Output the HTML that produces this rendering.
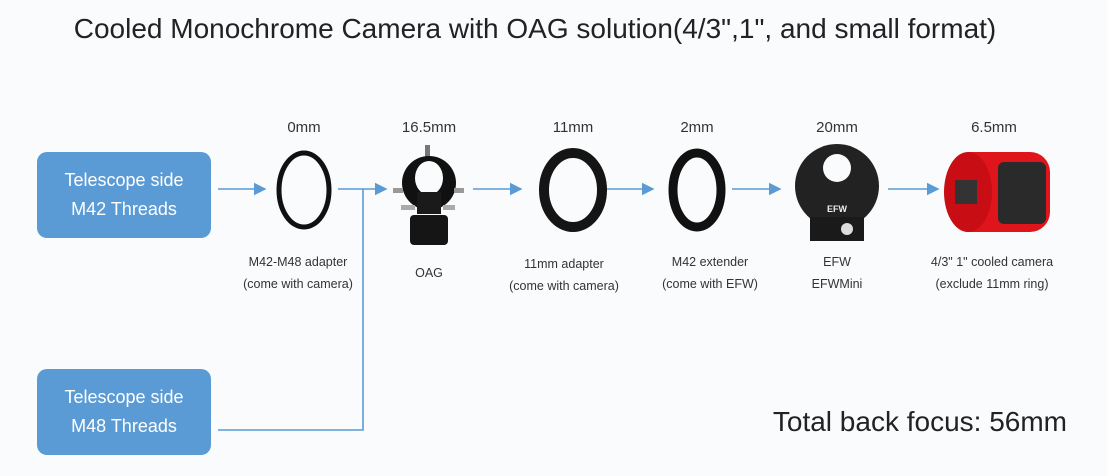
<!DOCTYPE html>
<html><head><meta charset="utf-8"><style>
html,body{margin:0;padding:0}
body{width:1107px;height:476px;background:#fafbfc;position:relative;overflow:hidden;font-family:"Liberation Sans","DejaVu Sans",sans-serif;color:#333}
.t{position:absolute;white-space:nowrap;transform:translateX(-50%);text-align:center}
.box{position:absolute;left:37px;width:174px;height:86px;background:#5b9bd5;border-radius:10px;color:#fff;font-size:18px;line-height:29px;display:flex;align-items:center;justify-content:center;text-align:center}
.mm{font-size:15px;top:119px}
.cap{font-size:12.5px;line-height:22px;top:251px}
</style></head><body>
<div class="t" style="left:535px;top:13px;font-size:28px;color:#222">Cooled Monochrome Camera with OAG solution(4/3",1", and small format)</div>
<div class="box" style="top:152px">Telescope side<br>M42 Threads</div>
<div class="box" style="top:369px">Telescope side<br>M48 Threads</div>

<svg width="1107" height="476" style="position:absolute;left:0;top:0">
<defs><marker id="a" markerWidth="8" markerHeight="8" refX="7" refY="4" orient="auto"><path d="M0,0 L8,4 L0,8 z" fill="#5b9bd5"/></marker></defs>
<g stroke="#5b9bd5" stroke-width="1.6" fill="none">
<line x1="218" y1="189" x2="265" y2="189" marker-end="url(#a)"/>
<line x1="338" y1="189" x2="386" y2="189" marker-end="url(#a)"/>
<polyline points="363,189 363,430 218,430"/>
<line x1="473" y1="189" x2="521" y2="189" marker-end="url(#a)"/>
<line x1="605" y1="189" x2="653" y2="189" marker-end="url(#a)"/>
<line x1="732" y1="189" x2="780" y2="189" marker-end="url(#a)"/>
<line x1="888" y1="189" x2="938" y2="189" marker-end="url(#a)"/>
</g>
<ellipse cx="304" cy="190" rx="25" ry="37" fill="none" stroke="#111" stroke-width="5"/>
<rect x="425" y="145" width="5" height="12" fill="#777"/>
<circle cx="429" cy="183" r="27" fill="#111"/>
<ellipse cx="429" cy="178" rx="14" ry="17" fill="#fafbfc"/>
<rect x="417" y="192" width="24" height="22" fill="#1a1a1a"/>
<rect x="410" y="215" width="38" height="30" rx="4" fill="#151515"/>
<rect x="393" y="188" width="10" height="5" fill="#999"/><rect x="454" y="188" width="10" height="5" fill="#999"/>
<rect x="401" y="205" width="14" height="5" fill="#aaa"/><rect x="443" y="205" width="12" height="5" fill="#aaa"/>
<ellipse cx="573" cy="190" rx="29" ry="37" fill="none" stroke="#151515" stroke-width="10"/>
<ellipse cx="697" cy="190" rx="24" ry="37" fill="none" stroke="#111" stroke-width="9"/>
<circle cx="837" cy="186" r="42" fill="#222"/>
<circle cx="837" cy="168" r="14" fill="#fafbfc"/>
<rect x="810" y="217" width="54" height="24" fill="#1a1a1a"/>
<circle cx="847" cy="229" r="6" fill="#ddd"/>
<text x="837" y="212" font-size="9" fill="#eee" text-anchor="middle" font-family="Liberation Sans" font-weight="bold">EFW</text>
<rect x="950" y="152" width="100" height="80" rx="20" fill="#e0141b"/>
<rect x="998" y="162" width="48" height="62" rx="6" fill="#2a2a2a"/>
<ellipse cx="968" cy="192" rx="24" ry="40" fill="#c80d14"/>
<rect x="955" y="180" width="22" height="24" fill="#333"/>
</svg>

<div class="t mm" style="left:304px">0mm</div>
<div class="t mm" style="left:429px">16.5mm</div>
<div class="t mm" style="left:573px">11mm</div>
<div class="t mm" style="left:697px">2mm</div>
<div class="t mm" style="left:837px">20mm</div>
<div class="t mm" style="left:994px">6.5mm</div>

<div class="t cap" style="left:298px">M42-M48 adapter<br>(come with camera)</div>
<div class="t cap" style="left:429px;top:262px">OAG</div>
<div class="t cap" style="left:564px;top:253px">11mm adapter<br>(come with camera)</div>
<div class="t cap" style="left:710px">M42 extender<br>(come with EFW)</div>
<div class="t cap" style="left:837px">EFW<br>EFWMini</div>
<div class="t cap" style="left:992px">4/3" 1" cooled camera<br>(exclude 11mm ring)</div>

<div style="position:absolute;right:40px;top:406px;font-size:28px;color:#222;white-space:nowrap">Total back focus: 56mm</div>
</body></html>
